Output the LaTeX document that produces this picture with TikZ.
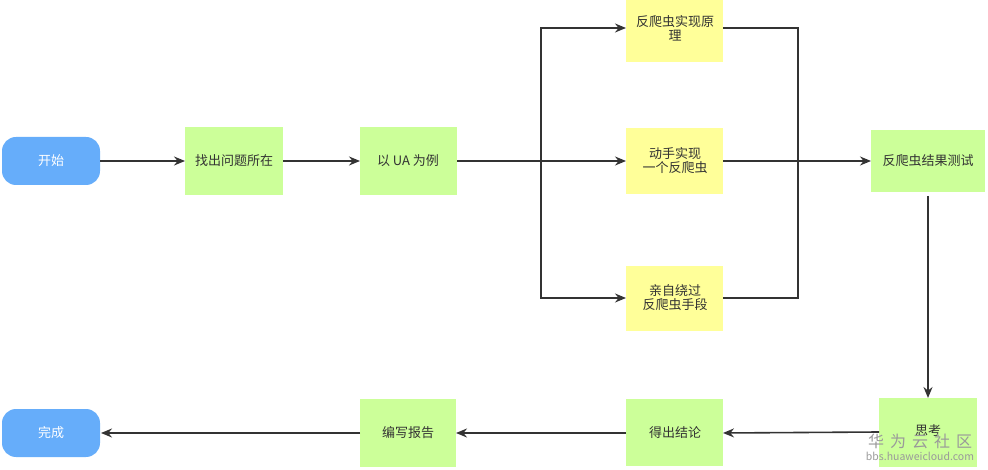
\documentclass[tikz,border=0pt]{standalone}
\usepackage{fontspec}
\setmainfont{Noto Sans CJK SC}
\usetikzlibrary{arrows.meta}
\definecolor{termblue}{HTML}{66ADFA}
\definecolor{stepgreen}{HTML}{CCFF99}
\definecolor{stepyellow}{HTML}{FFFF99}
\definecolor{linegray}{HTML}{333333}
\definecolor{wmgray}{HTML}{9A9A9A}
\begin{document}
\begin{tikzpicture}[x=1pt,y=-1pt,
  term/.style={rounded corners=14pt, fill=termblue, text=white, font=\fontsize{13}{16}\selectfont},
  stepbox/.style={fill=stepgreen, text=linegray, font=\fontsize{13}{16}\selectfont, align=center},
  ybox/.style={fill=stepyellow, text=linegray, font=\fontsize{13}{16}\selectfont, align=center},
  conn/.style={draw=linegray, line width=1.6pt},
  arr/.style={conn, -{Stealth[length=11pt,width=9pt]}}]
\useasboundingbox (0,0) rectangle (988,470);
% nodes
\path[term] (2,137) rectangle (100,185);
\node[text=white, font=\fontsize{13}{16}\selectfont] (start) at (51,161) {开始};
\coordinate (startR) at (100,161);
\path[stepbox] (185,127) rectangle (283,195);
\node[stepbox, fill=none] (find) at (234,161) {找出问题所在};
\coordinate (findL) at (185,161); \coordinate (findR) at (283,161);
\path[stepbox] (360,127) rectangle (457,195);
\node[stepbox, fill=none] (ua) at (408,161) {以 UA 为例};
\coordinate (uaL) at (360,161); \coordinate (uaR) at (457,161);
\path[ybox] (626,-2) rectangle (723,62);
\node[ybox, fill=none] (prin) at (675,28) {反爬虫实现原\\[-2pt]理};
\coordinate (prinL) at (626,28); \coordinate (prinR) at (723,28);
\path[ybox] (626,128) rectangle (723,194);
\node[ybox, fill=none] (impl) at (675,161) {动手实现\\[-2pt]一个反爬虫};
\coordinate (implL) at (626,161); \coordinate (implR) at (723,161);
\path[ybox] (626,266) rectangle (723,331);
\node[ybox, fill=none] (bypass) at (675,298) {亲自绕过\\[-2pt]反爬虫手段};
\coordinate (bypassL) at (626,298); \coordinate (bypassR) at (723,298);
\path[stepbox] (871,130) rectangle (985,192);
\node[stepbox, fill=none] (test) at (928,161) {反爬虫结果测试};
\coordinate (testL) at (871,161); \coordinate (testB) at (928,196);
\path[stepbox] (879,398) rectangle (977,467);
\node[stepbox, fill=none] (think) at (928,431) {思考};
\coordinate (thinkL) at (879,432); \coordinate (thinkT) at (928,398);
\path[stepbox] (626,399) rectangle (723,466);
\node[stepbox, fill=none] (concl) at (675,433) {得出结论};
\coordinate (conclL) at (626,433); \coordinate (conclR) at (723,433);
\path[stepbox] (360,399) rectangle (456,467);
\node[stepbox, fill=none] (report) at (408,433) {编写报告};
\coordinate (reportL) at (360,433); \coordinate (reportR) at (456,433);
\path[term] (2,409) rectangle (100,457);
\node[text=white, font=\fontsize{13}{16}\selectfont] (done) at (51,433) {完成};
\coordinate (doneR) at (101,433);
% branch points
\coordinate (bl) at (541,161);
\coordinate (br) at (798,161);
% connectors
\draw[arr] (startR) -- (findL);
\draw[arr] (findR) -- (uaL);
\draw[arr] (uaR) -- (implL);
\draw[arr] (bl) |- (prinL);
\draw[arr] (bl) |- (bypassL);
\draw[conn] (prinR) -| (br);
\draw[conn] (bypassR) -| (br);
\draw[arr] (implR) -- (testL);
\draw[arr] (testB) -- (thinkT);
\draw[arr] (thinkL) -- (conclR);
\draw[arr] (conclL) -- (reportR);
\draw[arr] (reportL) -- (doneR);
% watermark
\node[text=wmgray, font=\fontsize{16}{18}\selectfont] (wm1) at (920,441) {华\hspace{6pt}为\hspace{6pt}云\hspace{6pt}社\hspace{6pt}区};
\node[text=wmgray, font=\fontsize{10.5}{12}\selectfont] (wm2) at (920,456) {bbs.huaweicloud.com};
\end{tikzpicture}
\end{document}
